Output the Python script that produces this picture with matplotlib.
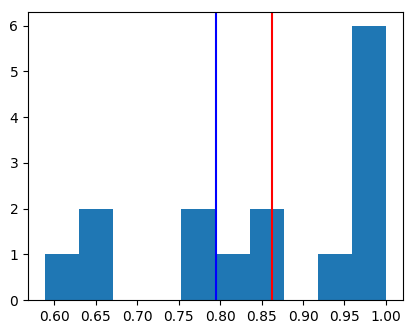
import numpy as np
import matplotlib
matplotlib.use("Agg")
import matplotlib.pyplot as plt
from matplotlib.ticker import MultipleLocator, FormatStrFormatter

# sample values (10 bins from min to max)
scores = [0.589, 0.64, 0.65, 0.77, 0.78, 0.81, 0.85, 0.86, 0.94,
          1.0, 1.0, 1.0, 1.0, 1.0, 1.0]
blue_line = 0.7955
red_line = 0.8625

fig = plt.figure(figsize=(4.15, 3.32), dpi=100)
ax = fig.add_axes([28 / 415, 32 / 332, 375 / 415, 288 / 332])

ax.hist(scores, bins=10)
ax.axvline(blue_line, color="b")
ax.axvline(red_line, color="r")

ax.xaxis.set_major_locator(MultipleLocator(0.05))
ax.xaxis.set_major_formatter(FormatStrFormatter("%.2f"))

fig.savefig("out.png")
